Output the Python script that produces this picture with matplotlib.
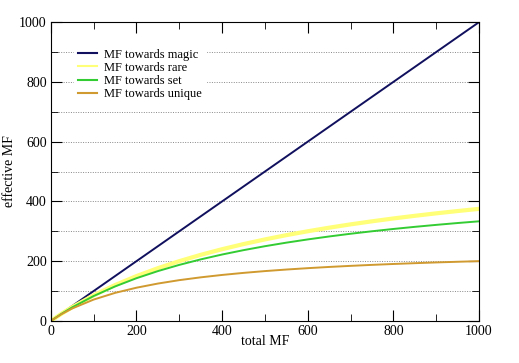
import matplotlib
matplotlib.use("Agg")
import matplotlib.pyplot as plt
from matplotlib.ticker import MultipleLocator

plt.rcParams['font.family'] = ['Liberation Serif', 'DejaVu Serif']

# values
total_mf = [0, 25, 50, 100, 150, 200, 250, 300, 350, 400, 450, 500,
            550, 600, 650, 700, 750, 800, 850, 900, 950, 1000]
mf_magic = list(total_mf)
mf_rare = [0, 24.0, 46.2, 85.7, 120.0, 150.0, 176.5, 200.0, 221.1, 240.0, 257.1, 272.7,
           287.0, 300.0, 312.0, 323.1, 333.3, 342.9, 351.7, 360.0, 367.7, 375.0]
mf_set = [0, 23.8, 45.5, 83.3, 115.4, 142.9, 166.7, 187.5, 205.9, 222.2, 236.8, 250.0,
          261.9, 272.7, 282.6, 291.7, 300.0, 307.7, 314.8, 321.4, 327.6, 333.3]
mf_unique = [0, 22.7, 41.7, 71.4, 93.8, 111.1, 125.0, 136.4, 145.8, 153.8, 160.7, 166.7,
             171.9, 176.5, 180.6, 184.2, 187.5, 190.5, 193.2, 195.7, 197.9, 200.0]

fig = plt.figure(figsize=(5.19, 3.63), dpi=100)
ax = fig.add_axes([0.098, 0.116, 0.825, 0.823])

ax.plot(total_mf, mf_magic, color='#10105e', lw=1.4, label='MF towards magic')
ax.plot(total_mf, mf_rare, color='#ffff78', lw=3, label='MF towards rare')
ax.plot(total_mf, mf_set, color='#33cc33', lw=1.4, label='MF towards set')
ax.plot(total_mf, mf_unique, color='#d09a30', lw=1.4, label='MF towards unique')

ax.set_xlim(0, 1000)
ax.set_ylim(0, 1000)
ax.xaxis.set_major_locator(MultipleLocator(200))
ax.xaxis.set_minor_locator(MultipleLocator(100))
ax.yaxis.set_major_locator(MultipleLocator(200))
ax.yaxis.set_minor_locator(MultipleLocator(100))
ax.tick_params(which='both', direction='in', top=True, right=True, labelsize=10, pad=3)
ax.tick_params(which='major', length=8)
ax.tick_params(which='minor', length=5)
ax.grid(axis='y', which='both', linestyle=(0, (1, 1.5)), color='#888888', lw=0.7)
ax.set_axisbelow(True)

ax.set_xlabel('total MF', fontsize=10, labelpad=-2)
ax.set_ylabel('effective MF', fontsize=10, labelpad=2)

leg = ax.legend(loc='upper left', bbox_to_anchor=(0.04, 0.945), frameon=True,
                fontsize=9, handlelength=1.5, handletextpad=0.6,
                labelspacing=0.1, borderpad=0.3)
leg.get_frame().set_edgecolor('white')
leg.get_frame().set_alpha(1)
for h in leg.get_lines():
    h.set_linewidth(1.5)

fig.savefig('out.png', dpi=100)
